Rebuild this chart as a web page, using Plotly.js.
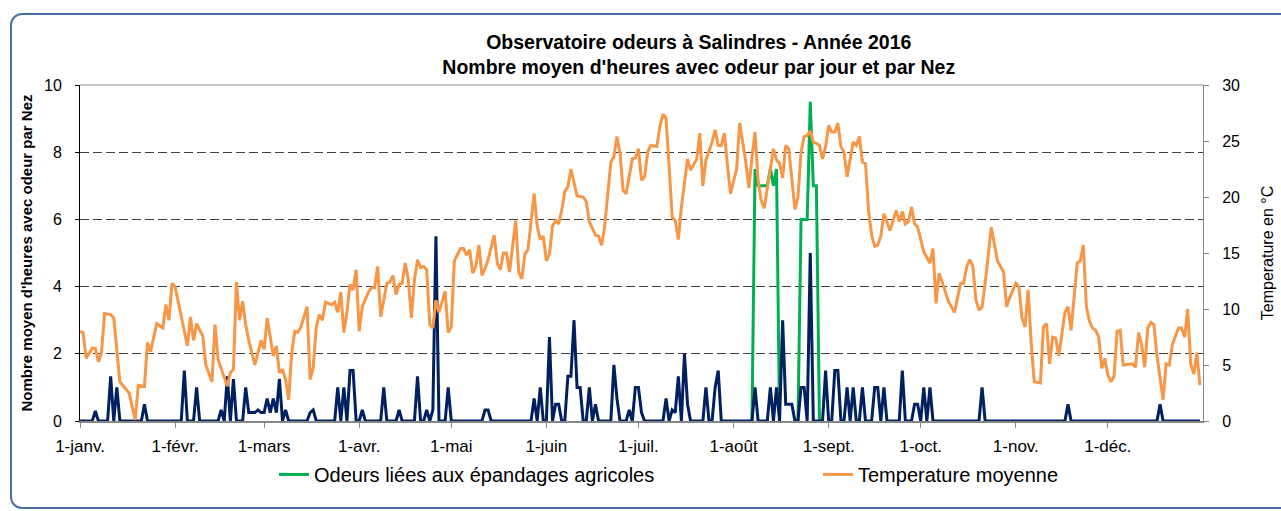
<!DOCTYPE html>
<html>
<head>
<meta charset="utf-8">
<script src="https://cdn.plot.ly/plotly-3.0.1.min.js"></script>
<style>
  html, body { margin: 0; padding: 0; background: #ffffff; width: 1281px; height: 511px; overflow: hidden; }
  #wrap { position: relative; width: 1281px; height: 511px; overflow: hidden; }
  #frame { position: absolute; left: 10px; top: 13px; width: 1285px; height: 496px;
           border: 2px solid #4a6fa5; border-radius: 12px; box-sizing: border-box; }
  #chart { position: absolute; left: 0; top: 0; width: 1281px; height: 511px; }
</style>
</head>
<body>
<div id="wrap">
<div id="frame"></div>
<div id="chart"></div>
</div>
<script>
// ---- Data (day index 0 = 1 Jan 2016) ----
const tempDays = [0,1,2,4,5,6,7,8,10,11,13,16,18,19,21,22,23,25,27,28,29,30,31,35,36,37,38,40,41,43,44,45,48,49,50,51,52,53,54,55,57,59,60,61,63,64,65,66,67,68,69,70,71,72,74,75,76,77,78,79,80,82,83,84,85,86,87,88,89,90,91,92,94,95,96,97,98,100,101,102,103,104,105,106,107,108,109,110,111,112,113,114,115,116,117,119,120,121,122,123,124,125,126,127,128,129,130,131,132,133,135,136,137,138,139,140,141,142,143,144,145,146,148,149,150,151,152,153,154,155,156,157,158,159,160,161,162,164,165,166,167,168,169,170,171,172,173,174,175,176,177,178,180,181,182,183,184,185,186,188,189,190,191,192,193,194,195,196,198,199,200,201,202,203,204,206,207,208,209,210,211,212,214,215,217,218,219,220,221,222,223,225,226,227,228,229,230,231,233,234,235,236,237,238,239,240,241,242,243,244,245,246,247,248,249,250,252,253,254,255,256,257,258,259,260,261,262,264,265,266,267,268,269,270,271,272,273,275,277,278,279,280,281,283,285,287,288,289,290,291,292,293,294,295,297,298,299,300,301,302,303,305,306,307,308,309,310,311,313,314,315,316,317,318,319,321,322,323,325,326,327,328,329,330,331,332,333,334,335,336,337,338,339,340,342,343,344,345,346,347,348,349,350,351,353,354,355,356,358,359,360,361,362,363,364,365];
const tempValues = [8.0,7.9,5.6,6.5,6.5,5.3,6.1,9.6,9.5,9.2,3.5,2.5,0.1,3.2,3.1,7.0,6.2,8.7,8.3,10.4,9.0,12.3,12.0,6.7,9.3,7.2,8.7,7.6,5.0,3.5,8.6,5.5,3.1,4.3,4.6,12.4,9.0,10.7,8.6,7.2,5.0,7.2,6.4,9.2,5.8,6.7,4.3,4.6,3.7,1.9,6.1,8.0,7.9,8.4,10.2,3.7,4.8,8.4,9.5,9.0,10.6,10.4,10.6,9.7,11.5,7.9,9.7,12.2,11.7,13.5,8.0,10.2,11.5,11.9,11.9,13.8,9.3,12.3,12.4,13.0,11.3,12.2,12.3,14.1,12.6,9.2,12.6,14.4,13.7,13.8,13.5,8.6,8.3,10.8,9.7,11.6,7.9,8.4,14.3,14.8,15.4,15.4,14.8,15.3,13.2,13.8,15.7,13.0,13.6,14.4,16.6,14.1,13.5,15.0,15.0,13.3,15.9,17.9,13.3,12.7,14.9,15.3,20.3,17.4,16.2,16.5,14.3,14.9,17.4,17.9,17.6,18.8,20.5,20.9,22.5,21.2,20.1,20.0,19.6,17.8,17.2,16.6,16.5,15.7,17.4,20.3,23.1,23.6,25.4,23.9,20.6,20.3,23.4,23.5,24.3,21.5,21.8,24.0,24.6,24.5,26.3,27.4,27.0,22.7,18.2,17.9,16.2,19.1,23.4,22.4,22.9,23.4,25.7,21.0,23.3,24.9,26.0,24.6,24.6,25.7,22.9,20.3,22.5,26.6,23.1,20.8,23.5,25.8,21.5,19.7,19.0,22.5,24.3,23.3,23.0,21.7,24.6,24.3,18.9,20.0,24.0,25.4,25.5,25.9,24.9,24.8,24.6,23.4,24.5,26.4,25.8,25.8,26.6,24.5,24.0,21.8,24.9,24.6,25.4,23.1,23.0,18.8,16.6,15.6,15.7,16.5,18.5,17.0,17.8,18.8,17.8,18.7,17.6,17.8,19.1,17.6,17.3,15.1,14.1,15.4,10.5,13.2,12.4,10.7,9.7,12.3,12.3,13.8,14.4,13.8,10.8,9.9,10.2,12.3,17.3,15.9,14.3,13.8,13.3,10.2,11.0,12.3,12.0,9.2,8.4,11.7,7.0,3.5,3.4,8.4,8.7,5.1,7.5,7.4,5.8,9.7,10.2,8.1,14.1,14.3,15.7,10.2,8.9,8.3,8.1,7.5,4.7,5.6,4.1,3.5,4.0,8.0,8.1,5.0,5.1,5.1,4.8,7.9,6.8,4.8,8.3,8.8,8.6,5.8,1.9,5.1,5.0,6.8,8.3,8.3,7.5,10.0,5.1,4.2,6.1,3.2];

// All-odour series (dark blue, not in legend): days with a non-zero value; other days are 0
const odeurDays = [5,10,12,21,34,38,46,48,50,54,55,56,57,58,59,60,61,62,63,64,65,67,75,76,84,86,88,89,92,99,104,110,113,115,116,120,132,133,148,150,153,155,156,159,160,161,162,163,166,168,174,175,179,181,182,183,191,193,194,195,197,198,204,207,208,220,225,227,229,230,231,232,235,236,238,243,246,247,250,252,255,259,260,262,268,272,273,275,277,294,322,352];
const odeurValues = [0.3,1.33,1.0,0.5,1.5,1.0,0.33,1.33,1.25,1.0,0.25,0.25,0.25,0.33,0.25,0.25,0.67,0.25,0.67,0.25,1.25,0.33,0.25,0.33,1.0,1.0,1.5,1.5,0.33,1.0,0.33,1.33,0.33,0.33,5.5,1.0,0.33,0.33,0.67,1.0,2.5,0.5,0.5,1.33,1.33,3.0,1.0,1.0,1.0,0.5,1.67,0.67,0.33,1.0,1.0,0.25,0.67,0.33,0.25,1.33,2.0,0.5,1.0,1.0,1.5,1.0,1.0,1.0,3.0,0.5,0.5,0.5,1.0,1.0,5.0,1.5,1.5,1.5,1.0,1.0,1.0,1.0,1.0,1.0,1.5,0.5,0.5,1.0,1.0,1.0,0.5,0.5];

// Agricultural spreading odours (green): only the two reported episodes (with their 0 ends)
const epandDays = [219,220,221,222,223,224,225,226,227,228,234,235,236,237,238,239,240,241];
const epandValues = [0,7.5,7.0,7.0,7.0,7.0,7.5,7.0,7.5,0,0,6.0,6.0,6.0,9.5,7.0,7.0,0];

const monthTicks = ['2016-01-01','2016-02-01','2016-03-01','2016-04-01','2016-05-01','2016-06-01','2016-07-01','2016-08-01','2016-09-01','2016-10-01','2016-11-01','2016-12-01'];
const monthLabels = ['1-janv.','1-févr.','1-mars','1-avr.','1-mai','1-juin','1-juil.','1-août','1-sept.','1-oct.','1-nov.','1-déc.'];

const seriesNames = ['Odeurs liées aux épandages agricoles','Odeurs (toutes)','Temperature moyenne'];
const NDAYS = 366;

// ---- helpers ----
function dayToDate(d) {
  return new Date(Date.UTC(2016, 0, 1) + d * 86400000).toISOString().slice(0, 10);
}
function daily(days, vals, fill) {
  const out = new Array(NDAYS).fill(fill);
  days.forEach((d, i) => { out[d] = vals[i]; });
  return out;
}
const allDates = Array.from({length: NDAYS}, (_, i) => dayToDate(i));

const FONT = "'Liberation Sans', Arial, sans-serif";

const traces = [
  {
    x: allDates, y: daily(epandDays, epandValues, null), type: 'scatter', mode: 'lines',
    name: seriesNames[0], line: {color: '#00b050', width: 3}, yaxis: 'y', legend: 'legend',
    connectgaps: false
  },
  {
    x: allDates, y: daily(odeurDays, odeurValues, 0), type: 'scatter', mode: 'lines',
    name: seriesNames[1], line: {color: '#002060', width: 3}, yaxis: 'y', showlegend: false
  },
  {
    x: tempDays.map(dayToDate), y: tempValues, type: 'scatter', mode: 'lines',
    name: seriesNames[2], line: {color: '#f79646', width: 3}, yaxis: 'y2', legend: 'legend2'
  }
];

const layout = {
  width: 1281, height: 511,
  margin: {l: 80, r: 78, t: 84.5, b: 89.5},
  paper_bgcolor: 'rgba(0,0,0,0)', plot_bgcolor: 'rgba(0,0,0,0)',
  font: {family: FONT, color: '#000000', size: 16},
  title: {
    text: 'Observatoire odeurs à Salindres - Année 2016<br>Nombre moyen d\'heures avec odeur par jour et par Nez',
    font: {family: FONT, size: 19.5, weight: 'bold', color: '#000000'},
    xref: 'paper', x: 0.551, xanchor: 'center',
    yref: 'container', y: 1 - 49/511, yanchor: 'top'
  },
  xaxis: {
    type: 'date', range: ['2016-01-01', '2017-01-01'],
    tickvals: monthTicks, ticktext: monthLabels,
    showgrid: false, zeroline: false,
    showline: true, linecolor: '#868686', linewidth: 2,
    ticks: 'outside', ticklen: 5, tickcolor: '#868686', tickwidth: 1,
    tickfont: {family: FONT, size: 17, color: '#000000'},
    ticklabelstandoff: 4
  },
  yaxis: {
    range: [0, 10], tickvals: [0, 2, 4, 6, 8, 10],
    showgrid: true, gridcolor: '#404040', gridwidth: 1, griddash: '9px,4px',
    zeroline: false, showline: true, linecolor: '#000000', linewidth: 1,
    ticks: 'outside', ticklen: 4, tickcolor: '#000000',
    tickfont: {family: FONT, size: 16, color: '#000000'},
    ticklabelstandoff: 10,
    title: {text: 'Nombre moyen d\'heures avec odeur par Nez', standoff: 7,
            font: {family: FONT, size: 15, weight: 'bold', color: '#000000'}}
  },
  yaxis2: {
    range: [0, 30], tickvals: [0, 5, 10, 15, 20, 25, 30],
    overlaying: 'y', side: 'right', anchor: 'x',
    showgrid: false, zeroline: false,
    showline: true, linecolor: '#868686', linewidth: 1,
    ticks: 'outside', ticklen: 5, tickcolor: '#868686',
    tickfont: {family: FONT, size: 16, color: '#000000'},
    ticklabelstandoff: 10,
    title: {text: 'Temperature en °C', standoff: 22,
            font: {family: FONT, size: 16, color: '#000000'}}
  },
  legend: {
    orientation: 'h', x: (274 - 80) / 1123, xanchor: 'left', y: -0.159, yanchor: 'middle',
    font: {family: FONT, size: 20, color: '#000000'}, bgcolor: 'rgba(0,0,0,0)', itemwidth: 30
  },
  legend2: {
    orientation: 'h', x: (818 - 80) / 1123, xanchor: 'left', y: -0.159, yanchor: 'middle',
    font: {family: FONT, size: 20, color: '#000000'}, bgcolor: 'rgba(0,0,0,0)', itemwidth: 30
  },
  shapes: [
    {type: 'line', xref: 'paper', yref: 'paper', x0: 0, x1: 1, y0: 1, y1: 1,
     line: {color: '#8c8c8c', width: 1}}
  ]
};

Plotly.newPlot('chart', traces, layout, {displayModeBar: false, staticPlot: true});
</script>
</body>
</html>
